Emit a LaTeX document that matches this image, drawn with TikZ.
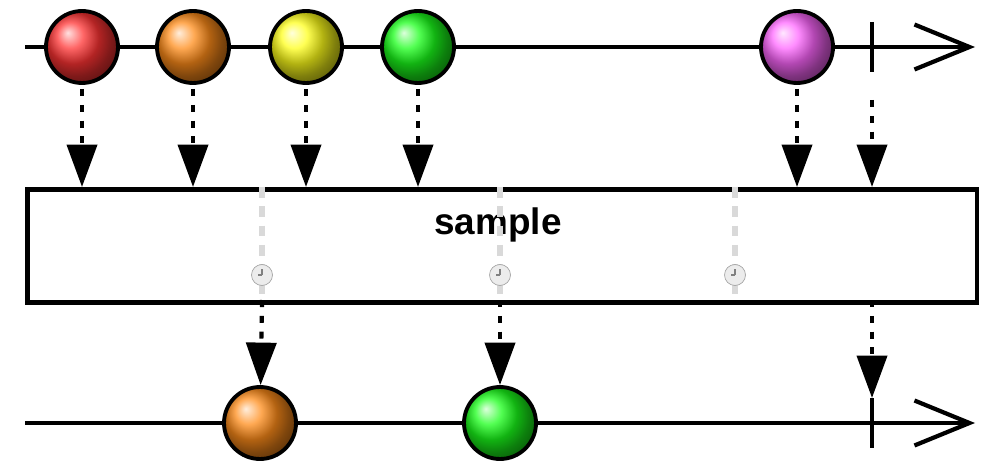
\documentclass[tikz,border=0pt]{standalone}
\usepackage{fontspec}
\setmainfont{Liberation Sans}
\usetikzlibrary{arrows.meta}
\begin{document}
\begin{tikzpicture}[x=0.02cm,y=-0.02cm,
		marble/.style={circle,draw,line width=2.2pt,minimum size=1.44cm,shading=ball},
		tick/.style={line width=2.4pt},
		timeline/.style={line width=2.4pt,-{Straight Barb[length=1.1cm,width=0.9cm,line width=2.4pt]}},
		emit/.style={line width=2.4pt,dash pattern=on 4pt off 5pt,-{Triangle[length=0.85cm,width=0.6cm]}},
		timer/.style={draw=gray!30,line width=3pt,dash pattern=on 6pt off 5pt},
		clock/.style={circle,draw=gray!70,fill=gray!15,minimum size=0.42cm,inner sep=0pt}
		]
	\useasboundingbox (0,0) rectangle (1000,476);

	% Eingangsstrom
	% ----------------------
	\coordinate (inStart) at (25,47);
	\coordinate (inEnd) at (975,47);
	\draw[timeline] (inStart) -- (inEnd);
	\node[marble,ball color=red!80!white] (inA) at (82,47) {};
	\node[marble,ball color=orange!90!white] (inB) at (193,47) {};
	\node[marble,ball color=yellow!90!white] (inC) at (306,47) {};
	\node[marble,ball color=green!90!white] (inD) at (418,47) {};
	\node[marble,ball color=magenta!60] (inE) at (797,47) {};
	\coordinate (inTickTop) at (872,22);
	\coordinate (inTickBot) at (872,72);
	\draw[tick] (inTickTop) -- (inTickBot);

	% Operator
	% ----------------------
	\node[draw,line width=2.6pt,rectangle,minimum width=19cm,minimum height=2.26cm,anchor=north west] (op) at (25,187) {};
	\node[font=\bfseries\fontsize{21}{24}\selectfont] (opLabel) at (498,225) {sample};

	% Taktgeber
	\foreach \name/\x in {clkA/262,clkB/500,clkC/735}{
		\coordinate (\name-top) at (\x,187);
		\coordinate (\name-bot) at (\x,300);
		\draw[timer] (\name-top) -- (\name-bot);
		\node[clock] (\name) at (\x,275) {};
		\draw[gray,line width=0.6pt] (\name.center) -- ++(0,-6) (\name.center) -- ++(-4,0);
	}

	% Pfeile zum Operator
	\foreach \src/\x in {inA/82,inB/193,inC/306,inD/418,inE/797}{
		\coordinate (\src-op) at (\x,187);
		\draw[emit] (\src) ++(0,42) -- (\src-op);
	}
	\coordinate (tickIn) at (872,100);
	\coordinate (tickOp) at (872,187);
	\draw[emit] (tickIn) -- (tickOp);

	% Ausgangsstrom
	% ----------------------
	\coordinate (outStart) at (25,423);
	\coordinate (outEnd) at (975,423);
	\draw[timeline] (outStart) -- (outEnd);
	\node[marble,ball color=orange!90!white] (outB) at (260,423) {};
	\node[marble,ball color=green!90!white] (outD) at (500,423) {};
	\coordinate (outTickTop) at (872,398);
	\coordinate (outTickBot) at (872,448);
	\draw[tick] (outTickTop) -- (outTickBot);

	\draw[emit] (clkA-bot) -- (outB);
	\draw[emit] (clkB-bot) -- (outD);
	\coordinate (tickOut) at (872,300);
	\draw[emit] (tickOut) -- (outTickTop);
\end{tikzpicture}
\end{document}
